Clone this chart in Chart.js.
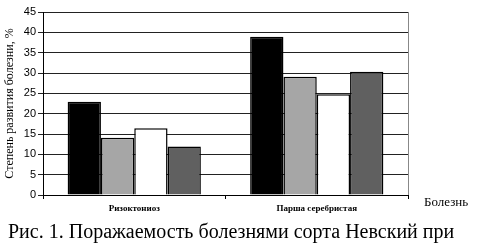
<!DOCTYPE html>
<html>
<head>
<meta charset="utf-8">
<script src="https://cdn.jsdelivr.net/npm/chart.js@4"></script>
<style>
  body { margin: 0; background: #fff; }
  #wrap { position: relative; width: 479px; height: 244px; }
  #axisName { position: absolute; left: 424px; top: 194px; font: 13px "Liberation Serif", serif; color: #000; }
  #caption { position: absolute; left: 8px; top: 220px; font: 20px "Liberation Serif", serif; color: #000; white-space: nowrap; }
</style>
</head>
<body>
<div id="wrap">
  <canvas id="barChart" width="479" height="244"></canvas>
  <div id="axisName">Болезнь</div>
  <div id="caption">Рис. 1. Поражаемость болезнями сорта Невский при</div>
</div>
<script>
// data
var diseases = ["Ризоктониоз", "Парша серебристая"];
var variant1 = [22.9, 38.9];
var variant2 = [14.1, 29.1];
var variant3 = [16.4, 24.8];
var variant4 = [11.9, 30.3];
var yTicks = [0, 5, 10, 15, 20, 25, 30, 35, 40, 45];

function bar(label, data, color) {
  return {
    label: label,
    data: data,
    backgroundColor: color,
    borderColor: "#000",
    borderWidth: 1.5,
    barPercentage: 1,
    categoryPercentage: 0.73,
  };
}

// grey frame on the right side of the plot
var rightBorder = {
  id: "rightBorder",
  afterDraw: function (chart) {
    var a = chart.chartArea;
    var c = chart.ctx;
    c.save();
    c.strokeStyle = "#888";
    c.lineWidth = 1;
    c.beginPath();
    c.moveTo(a.right + 0.5, a.top);
    c.lineTo(a.right + 0.5, a.bottom);
    c.stroke();
    c.restore();
  },
};

var ctx = document.getElementById("barChart");

var BarChart = new Chart(ctx, {
  type: "bar",
  data: {
    labels: diseases,
    datasets: [
      bar("1", variant1, "#000000"),
      bar("2", variant2, "#a6a6a6"),
      bar("3", variant3, "#ffffff"),
      bar("4", variant4, "#606060"),
    ],
  },
  plugins: [rightBorder],
  options: {
    responsive: false,
    animation: false,
    layout: {
      padding: { left: 3, top: 12, right: 71, bottom: 27 },
    },
    plugins: {
      legend: { display: false },
      tooltip: { enabled: false },
    },
    scales: {
      x: {
        grid: {
          offset: true,
          drawOnChartArea: false,
          color: "#000",
          tickLength: 4,
        },
        border: { color: "#000", width: 1 },
        ticks: {
          color: "#000",
          padding: 4,
          font: { family: "Liberation Serif", size: 9, weight: "bold" },
        },
        afterFit: function (scale) {
          scale.height = 22;
        },
      },
      y: {
        min: 0,
        max: 45,
        afterBuildTicks: function (scale) {
          scale.ticks = yTicks.map(function (v) { return { value: v }; });
        },
        grid: {
          color: "#222",
          lineWidth: 1,
          tickLength: 5,
        },
        border: { color: "#000", width: 1 },
        ticks: {
          color: "#000",
          padding: 2,
          font: { family: "Liberation Sans", size: 11 },
        },
        title: {
          display: true,
          text: "Степень развития болезни, %",
          color: "#000",
          padding: { top: 0, bottom: 3 },
          font: { family: "Liberation Serif", size: 12 },
        },
        afterFit: function (scale) {
          scale.width = 40;
        },
      },
    },
  },
});
</script>
</body>
</html>
